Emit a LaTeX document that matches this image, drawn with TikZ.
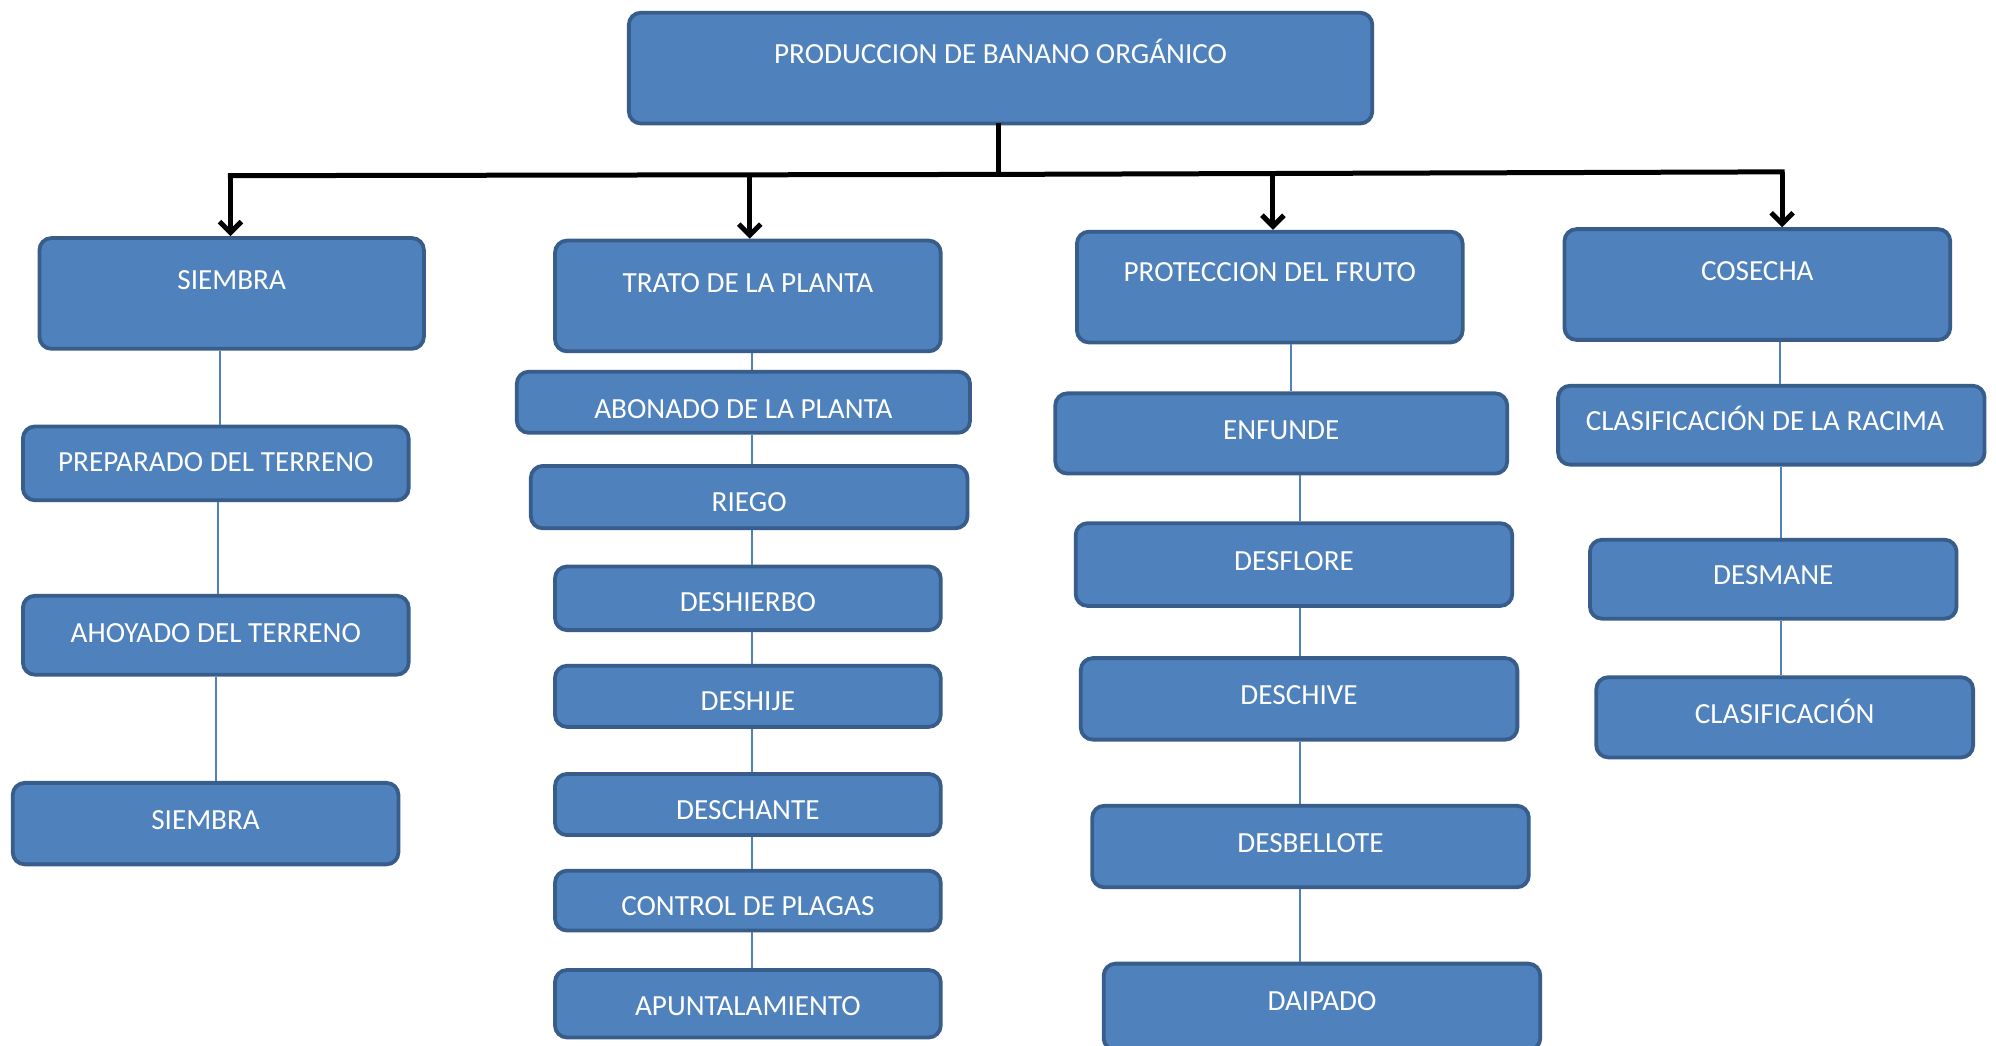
\documentclass[tikz,border=0pt]{standalone}
\usepackage{fontspec}
\setmainfont{Carlito}
\usetikzlibrary{fit,arrows.meta}
\definecolor{bfill}{HTML}{4F81BD}
\definecolor{bdraw}{HTML}{385D8A}
\tikzset{
 boxsty/.style={draw=bdraw, fill=bfill, line width=1.9pt, rounded corners=6pt, inner sep=0pt},
 lbl/.style={text=white, font=\fontsize{14.6}{17}\selectfont, inner sep=0pt, anchor=base},
 linkln/.style={draw=bfill, line width=1pt},
 downarr/.style={line width=2.5pt, -{Straight Barb[length=5.5pt,width=11pt]}},
 barln/.style={line width=2.5pt, line cap=rect}
}
\newcommand{\obox}[8][0]{%
 \node[boxsty, fit={(#3,#4) (#5,#6)}] (#2) {};
 \node[lbl] (#2t) at ({(#3+#5)/2+#1},{#7+8.5}) {#8};
}
\begin{document}
\begin{tikzpicture}[x=0.6365pt,y=-0.6365pt]
\useasboundingbox (0,0) rectangle (1568,821);
% top
\obox{top}{494}{10}{1078}{97}{41}{PRODUCCION DE BANANO ORGÁNICO}
% level 1
\obox{sie}{31}{187}{333}{274}{219}{SIEMBRA}
\obox{tra}{436}{189}{739}{276}{221}{TRATO DE LA PLANTA}
\obox{pro}{846}{182}{1149}{269}{213}{PROTECCION DEL FRUTO}
\obox{cos}{1229}{180}{1532}{267}{212}{COSECHA}
% column 1
\obox{pre}{18}{335}{321}{393}{362}{PREPARADO DEL TERRENO}
\obox{aho}{18}{468}{321}{530}{496}{AHOYADO DEL TERRENO}
\obox{sib}{10}{615}{313}{679}{643}{SIEMBRA}
% column 2
\obox{abo}{406}{292}{762}{340}{320}{ABONADO DE LA PLANTA}
\obox{rie}{417}{366}{760}{415}{393}{RIEGO}
\obox{dhi}{436}{445}{739}{495}{472}{DESHIERBO}
\obox{dhj}{436}{523}{739}{571}{550}{DESHIJE}
\obox{dch}{436}{608}{739}{656}{635}{DESCHANTE}
\obox{con}{436}{684}{739}{731}{711}{CONTROL DE PLAGAS}
\obox{apu}{436}{762}{739}{815}{789}{APUNTALAMIENTO}
% column 3
\obox{enf}{829}{309}{1184}{372}{337}{ENFUNDE}
\obox{dfl}{845}{411}{1188}{476}{440}{DESFLORE}
\obox{dcv}{849}{517}{1192}{581}{545}{DESCHIVE}
\obox{dbe}{858}{633}{1201}{697}{661}{DESBELLOTE}
\obox{dai}{867}{757}{1210}{825}{785}{DAIPADO}
% column 4
\obox[-5]{cla}{1224}{303}{1559}{365}{330}{CLASIFICACIÓN DE LA RACIMA}
\obox{dma}{1249}{424}{1537}{486}{451}{DESMANE}
\obox{clf}{1254}{532}{1550}{595}{560}{CLASIFICACIÓN}
% black tree connectors
\coordinate (j) at (784,137);
\coordinate (b1) at (181,138);
\coordinate (b2) at (589,137.5);
\coordinate (b3) at (1000,136);
\coordinate (b4) at (1400,135);
\draw[barln] (top.south -| j) -- (j);
\draw[barln] (b1) -- (j) -- (b4);
\draw[downarr] (b1) -- (sie.north -| b1);
\draw[downarr] (b2) -- (tra.north -| b2);
\draw[downarr] (b3) -- (pro.north -| b3);
\draw[downarr] (b4) -- (cos.north -| b4);
% thin links column 1
\draw[linkln] (sie.south -| 173,0) -- (pre.north -| 173,0);
\draw[linkln] (pre.south -| 171,0) -- (aho.north -| 171,0);
\draw[linkln] (aho.south -| 170,0) -- (sib.north -| 170,0);
% column 2
\draw[linkln] (tra.south -| 591,0) -- (abo.north -| 591,0);
\draw[linkln] (abo.south -| 591,0) -- (rie.north -| 591,0);
\draw[linkln] (rie.south -| 591,0) -- (dhi.north -| 591,0);
\draw[linkln] (dhi.south -| 591,0) -- (dhj.north -| 591,0);
\draw[linkln] (dhj.south -| 591,0) -- (dch.north -| 591,0);
\draw[linkln] (dch.south -| 591,0) -- (con.north -| 591,0);
\draw[linkln] (con.south -| 591,0) -- (apu.north -| 591,0);
% column 3
\draw[linkln] (pro.south -| 1014,0) -- (enf.north -| 1014,0);
\draw[linkln] (enf.south -| 1021,0) -- (dfl.north -| 1021,0);
\draw[linkln] (dfl.south -| 1021,0) -- (dcv.north -| 1021,0);
\draw[linkln] (dcv.south -| 1021,0) -- (dbe.north -| 1021,0);
\draw[linkln] (dbe.south -| 1021,0) -- (dai.north -| 1021,0);
% column 4
\draw[linkln] (cos.south -| 1398,0) -- (cla.north -| 1398,0);
\draw[linkln] (cla.south -| 1399,0) -- (dma.north -| 1399,0);
\draw[linkln] (dma.south -| 1399,0) -- (clf.north -| 1399,0);
\end{tikzpicture}
\end{document}
